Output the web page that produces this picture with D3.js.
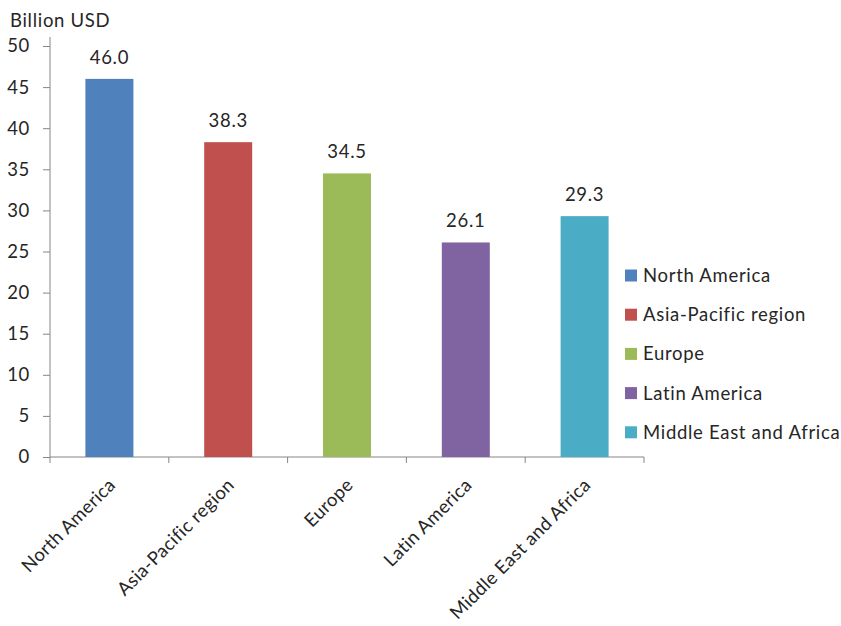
<!DOCTYPE html>
<html><head><meta charset="utf-8">
<script src="https://cdn.jsdelivr.net/npm/d3@7"></script>
<style>body{margin:0;background:#fff}svg{display:block}text{font-family:Lato,"Open Sans",sans-serif;fill:#262626;letter-spacing:0.7px}</style>
</head><body><svg id="c" width="841" height="626"></svg>
<script>
const categories = ["North America","Asia-Pacific region","Europe","Latin America","Middle East and Africa"];
const values = [46.0, 38.3, 34.5, 26.1, 29.3];
const colors = ["#4F81BD","#C0504D","#9BBB59","#8064A2","#4BACC6"];
const yTicks = [0,5,10,15,20,25,30,35,40,45,50];
const yTitle = "Billion USD";

const svg = d3.select("#c");
const fs = 18.5;
const x = d3.scaleBand().domain(categories).range([50,644]).paddingInner(0.596).paddingOuter(0.298);
const y = d3.scaleLinear().domain([0,50]).range([457,46]);
const axisColor = "#868686";

// y axis
const ya = svg.append("g").attr("transform","translate(50,0)")
  .call(d3.axisLeft(y).tickValues(yTicks).tickSize(7).tickPadding(13));
ya.select(".domain").attr("stroke",axisColor).attr("d","M0,37V457");
ya.selectAll(".tick line").attr("stroke",axisColor);
ya.selectAll(".tick text").attr("font-size",fs).attr("font-family","Lato").attr("fill","#262626");

// x axis
const xa = svg.append("g").attr("transform","translate(0,457)");
xa.append("line").attr("x1",50).attr("x2",644).attr("stroke",axisColor);
const edges = categories.map(c=>x(c)-x.step()*x.paddingInner()/2).concat([644]);
xa.selectAll("line.t").data(edges).join("line").attr("class","t")
  .attr("x1",d=>d).attr("x2",d=>d).attr("y1",0).attr("y2",6).attr("stroke",axisColor);
xa.selectAll("text").data(categories).join("text")
  .attr("transform",d=>`translate(${x(d)+x.bandwidth()/2-2},${20}) rotate(-45)`)
  .attr("text-anchor","end").attr("dy","0.7em").attr("font-size",fs)
  .style("letter-spacing","0.35px").text(d=>d);

// bars
svg.selectAll("rect.bar").data(categories).join("rect").attr("class","bar")
  .attr("x",d=>x(d)).attr("width",x.bandwidth())
  .attr("y",(d,i)=>y(values[i])).attr("height",(d,i)=>y(0)-y(values[i]))
  .attr("fill",(d,i)=>colors[i]);

// value labels
svg.selectAll("text.val").data(categories).join("text").attr("class","val")
  .attr("x",d=>x(d)+x.bandwidth()/2).attr("y",(d,i)=>y(values[i])-15)
  .attr("text-anchor","middle").attr("font-size",fs).text((d,i)=>values[i].toFixed(1));

// title
svg.append("text").attr("x",10).attr("y",27).attr("font-size",fs).text(yTitle);

// legend
const lg = svg.append("g");
categories.forEach((c,i)=>{
  const cy = 275.5 + i*39.2;
  lg.append("rect").attr("x",625).attr("y",cy-6).attr("width",12).attr("height",12).attr("fill",colors[i]);
  lg.append("text").attr("x",643).attr("y",cy).attr("dy","0.35em").attr("font-size",fs).text(c);
});
</script></body></html>
